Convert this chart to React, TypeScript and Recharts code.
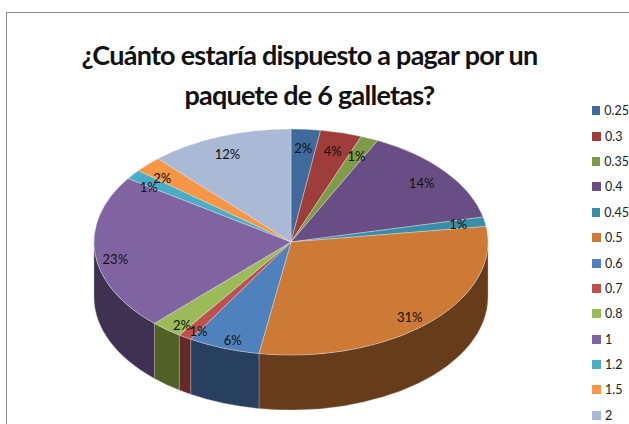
import { PieChart, Pie, Legend } from "recharts";

const categories = ["0.25", "0.3", "0.35", "0.4", "0.45", "0.5", "0.6", "0.7", "0.8", "1", "1.2", "1.5", "2"];
// shares as measured from the slice edges in the picture
const shares = [2.4, 3.4, 1.45, 14.2, 1.35, 29.8, 5.9, 1.1, 2.6, 22.3, 1.4, 2.3, 11.8];
// percent labels as printed
const printedLabels = ["2%", "4%", "1%", "14%", "1%", "31%", "6%", "1%", "2%", "23%", "1%", "2%", "12%"];
const topColors = ["#3F6A9C", "#9E3D3A", "#7F9B46", "#694E86", "#3A8DA6", "#CC7A36", "#4F81BD", "#C0504D", "#9BBB59", "#8064A2", "#4BACC6", "#F79646", "#AAB9D6"];
const wallColors = ["#263F5E", "#5F2523", "#4F6128", "#3F2F51", "#235563", "#663C1A", "#274060", "#632A28", "#4F6128", "#3F3151", "#2D6776", "#94592A", "#66708A"];

const data = categories.map((name, i) => ({ name, value: shares[i], fill: topColors[i] }));

const FONT = "Lato, sans-serif";
const SQUASH = 113 / 197;
const DEPTH = 55;
const RAD = Math.PI / 180;

function px(cx: number, r: number, a: number) {
  return cx + r * Math.cos(a * RAD);
}
function py(cy: number, r: number, a: number) {
  return cy - SQUASH * r * Math.sin(a * RAD);
}

// flattened top plus outer wall, so the round pie reads as the tilted disc
function TiltedSlice(props: any) {
  const { cx, cy, outerRadius: r, startAngle, endAngle, fill, index } = props;
  const ry = r * SQUASH;
  const large = Math.abs(startAngle - endAngle) > 180 ? 1 : 0;
  const top =
    `M${cx},${cy} L${px(cx, r, startAngle)},${py(cy, r, startAngle)} ` +
    `A${r},${ry} 0 ${large} 1 ${px(cx, r, endAngle)},${py(cy, r, endAngle)} Z`;

  // only the part facing the viewer (math angles 0 to -180) has a wall
  const a1 = Math.min(startAngle, 0);
  const a2 = Math.max(endAngle, -180);
  let wall = null;
  if (a1 > a2) {
    const x1 = px(cx, r, a1);
    const y1 = py(cy, r, a1);
    const x2 = px(cx, r, a2);
    const y2 = py(cy, r, a2);
    wall = (
      <path
        d={`M${x1},${y1} A${r},${ry} 0 0 1 ${x2},${y2} L${x2},${y2 + DEPTH} A${r},${ry} 0 0 0 ${x1},${y1 + DEPTH} Z`}
        fill={wallColors[index]}
        stroke="#B9B2A8"
        strokeWidth={0.4}
      />
    );
  }
  return (
    <g>
      {wall}
      <path d={top} fill={fill} stroke="#E4E4E4" strokeWidth={0.4} />
    </g>
  );
}

function SliceLabel(props: any) {
  const { cx, cy, midAngle, outerRadius, index } = props;
  const sin = Math.sin(midAngle * RAD);
  const cos = Math.cos(midAngle * RAD);
  // labels drift a little from the slice middle, as the tilted original does
  const a = midAngle + (cos < 0 ? -3.5 * cos : 3 * Math.min(sin, 0));
  const r = outerRadius * (0.87 - 0.04 * sin - 0.03 * Math.min(cos, 0));
  return (
    <text
      x={px(cx, r, a)}
      y={py(cy, r, a)}
      textAnchor="middle"
      dominantBaseline="central"
      fontFamily={FONT}
      fontSize={13}
      fill="#111"
    >
      {printedLabels[index]}
    </text>
  );
}

function PriceLegend({ payload }: any) {
  return (
    <div style={{ fontFamily: FONT, fontSize: 12.5, color: "#222" }}>
      {(payload || []).map((item: any) => (
        <div key={item.value} style={{ display: "flex", alignItems: "center", height: 25.4 }}>
          <span style={{ width: 9, height: 9, background: item.color, marginRight: 4, display: "inline-block" }} />
          {item.value}
        </div>
      ))}
    </div>
  );
}

export default function App() {
  return (
    <div style={{ position: "absolute", left: 0, top: 0, width: 629, height: 424, background: "#fff", overflow: "hidden" }}>
      <div style={{ position: "absolute", left: 6, top: 12, width: 700, height: 500, border: "1px solid #8C8C8C" }} />
      <div
        style={{
          position: "absolute",
          left: 0,
          top: 35,
          width: 619,
          textAlign: "center",
          fontFamily: FONT,
          fontWeight: 700,
          fontSize: 27,
          letterSpacing: -0.75,
          lineHeight: "40px",
          color: "#111",
        }}
      >
        ¿Cuánto estaría dispuesto a pagar por un
        <br />
        paquete de 6 galletas?
      </div>
      <div style={{ position: "absolute", left: 0, top: 0 }}>
        <PieChart width={629} height={424} margin={{ top: 0, right: 0, bottom: 0, left: 0 }}>
          <Pie
            data={data}
            dataKey="value"
            nameKey="name"
            cx={291}
            cy={242}
            outerRadius={197}
            startAngle={90}
            endAngle={-270}
            paddingAngle={0}
            stroke="none"
            shape={TiltedSlice}
            label={SliceLabel}
            labelLine={false}
            isAnimationActive={false}
          />
          <Legend
            layout="vertical"
            content={<PriceLegend />}
            wrapperStyle={{ position: "absolute", left: 592, top: 98, width: 37, bottom: "auto" }}
          />
        </PieChart>
      </div>
    </div>
  );
}
